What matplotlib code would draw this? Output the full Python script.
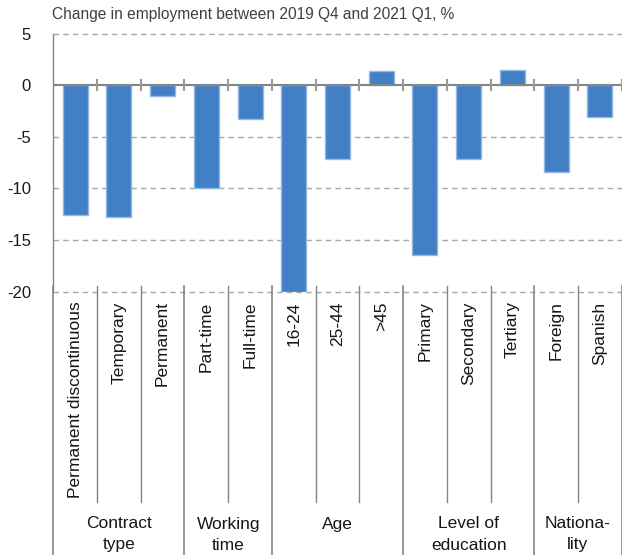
import matplotlib
matplotlib.use("Agg")
import matplotlib.pyplot as plt
from matplotlib.transforms import blended_transform_factory

plt.rcParams['font.family'] = ['Liberation Sans', 'DejaVu Sans']

# Employment change by worker group, 2019 Q4 -> 2021 Q1 (%)
categories = ["Permanent discontinuous", "Temporary", "Permanent",
              "Part-time", "Full-time",
              "16-24", "25-44", ">45",
              "Primary", "Secondary", "Tertiary",
              "Foreign", "Spanish"]
values = [-12.6, -12.8, -1.0,
          -10.0, -3.3,
          -20.0, -7.1, 1.4,
          -16.4, -7.1, 1.5,
          -8.4, -3.1]
group_names = ["Contract\ntype", "Working\ntime", "Age",
               "Level of\neducation", "Nationa-\nlity"]
group_sizes = [3, 2, 3, 3, 2]
y_ticks = [5, 0, -5, -10, -15, -20]

W, H = 622, 555
fig = plt.figure(figsize=(W / 100, H / 100), dpi=100)
ax_left, ax_right = 53.3, 621.7
ax_top, ax_bottom = 33.7, 291.7
ax = fig.add_axes([ax_left / W, 1 - ax_bottom / H,
                   (ax_right - ax_left) / W, (ax_bottom - ax_top) / H])

bar_color = "#4180c4"
edge_color = "#93b8e4"
grid_color = "#a8a8a8"
axis_color = "#858585"

x = list(range(len(categories)))
ax.bar(x, values, width=0.57, color=bar_color, edgecolor=edge_color,
       linewidth=1.0, zorder=3)

ax.set_xlim(-0.5, len(categories) - 0.5)
ax.set_ylim(-20, 5)

# dashed horizontal gridlines, solid zero line
for t in y_ticks:
    if t == 0:
        ax.axhline(0, color=axis_color, lw=1.5, zorder=4)
    else:
        ax.axhline(t, color=grid_color, lw=1.0, ls=(0, (4, 3)), zorder=1,
                   clip_on=False)

for s in ["top", "right", "bottom"]:
    ax.spines[s].set_visible(False)
ax.spines["left"].set_color(axis_color)
ax.spines["left"].set_linewidth(1.0)

ax.set_yticks(y_ticks)
ax.set_yticklabels([str(t) for t in y_ticks], fontsize=12, color="#1a1a1a")
ax.tick_params(axis="y", length=0, pad=16)
ax.set_xticks([])

# short tick marks on the zero line at category boundaries
for b in range(1, len(categories) + 1):
    ax.plot([b - 0.5, b - 0.5], [-0.5, 0.5], color="#999999", lw=1.5,
            zorder=4, clip_on=False)

trans = blended_transform_factory(ax.transData, fig.transFigure)

# category separators and group separators below the plot
boundaries = [0]
for n in group_sizes:
    boundaries.append(boundaries[-1] + n)
y_sep_top = 1 - 286.5 / H
for b in range(len(categories) + 1):
    xb = b - 0.5
    if b in boundaries:
        y_end = 0.0
        lw = 1.2
    else:
        y_end = 1 - 501.7 / H
        lw = 1.0
    ax.plot([xb, xb], [y_sep_top, y_end], color=axis_color, lw=lw,
            transform=trans, clip_on=False, zorder=2)

# rotated category labels
for i, c in enumerate(categories):
    ax.text(i, 1 - 301.5 / H, c, rotation=90, ha="center", va="top",
            fontsize=12.5, color="#161616", transform=trans)

# group labels
for gi, name in enumerate(group_names):
    center = (boundaries[gi] + boundaries[gi + 1] - 1) / 2
    ax.text(center, 1 - 516.5 / H, name, ha="center", va="top",
            fontsize=12.5, color="#161616", transform=trans,
            linespacing=1.5)

fig.text(ax_left / W - 0.002, 1 - 15 / H,
         "Change in employment between 2019 Q4 and 2021 Q1, %",
         ha="left", va="center", fontsize=11.2, color="#404040")

fig.savefig("out.png", dpi=100)
